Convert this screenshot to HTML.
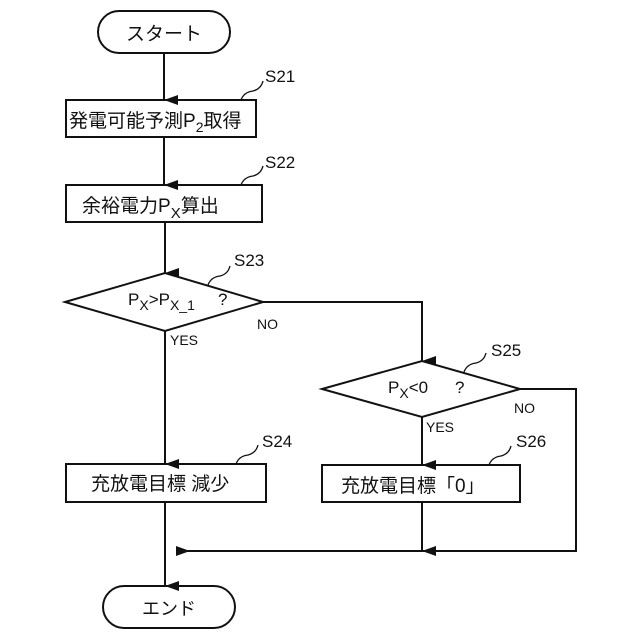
<!DOCTYPE html>
<html><head><meta charset="utf-8"><style>
html,body{margin:0;padding:0;background:#fff;}
svg{display:block;}
text{font-family:"Liberation Sans","Noto Sans CJK JP",sans-serif;fill:#111;}
</style></head><body>
<svg width="640" height="640" viewBox="0 0 640 640" xmlns="http://www.w3.org/2000/svg">
<defs><marker id="a" markerWidth="10" markerHeight="14" refX="5" refY="14" orient="auto-start-reverse" markerUnits="userSpaceOnUse" viewBox="0 0 10 14"><path d="M0,0 L10,0 L5,14 z" fill="#111"/></marker>
<marker id="l" markerWidth="14" markerHeight="10" refX="0" refY="5" markerUnits="userSpaceOnUse" viewBox="0 0 14 10"><path d="M0,5 L14,0 L14,10 z" fill="#111"/></marker></defs>
<g stroke="#111" stroke-width="2" fill="none">
<rect x="98" y="11" width="132" height="42" rx="21"/>
<line x1="164" y1="53" x2="164" y2="100" marker-end="url(#a)"/>
<rect x="66" y="100" width="190" height="37"/>
<line x1="164" y1="137" x2="164" y2="185" marker-end="url(#a)"/>
<rect x="66" y="185" width="196" height="37"/>
<line x1="165" y1="222" x2="165" y2="273" marker-end="url(#a)"/>
<polygon points="65,302 165,273 263,302 165,331"/>
<polyline points="263,302 422,302 422,361" marker-end="url(#a)"/>
<polygon points="322,389 422,361 520,389 422,417"/>
<line x1="165" y1="331" x2="165" y2="464" marker-end="url(#a)"/>
<rect x="66" y="464" width="200" height="38"/>
<line x1="422" y1="417" x2="422" y2="465" marker-end="url(#a)"/>
<rect x="322" y="465" width="198" height="37"/>
<line x1="422" y1="502" x2="422" y2="551" marker-end="url(#a)"/>
<polyline points="520,389 576,389 576,551 176,551"/>
<path d="M190,551 L176,546 L176,556 z" fill="#111" stroke="none"/>
<line x1="165" y1="502" x2="165" y2="586" marker-end="url(#a)"/>
<rect x="103" y="586" width="132" height="42" rx="21"/>
<path d="M241,100 q3,-8 12,-9 q8,-2 10,-10" stroke-width="1.3"/>
<path d="M241,185 q3,-8 12,-9 q8,-2 10,-10" stroke-width="1.3"/>
<path d="M208,285 q3,-8 12,-9 q8,-2 10,-10" stroke-width="1.3"/>
<path d="M236,464 q3,-8 12,-9 q8,-2 10,-10" stroke-width="1.3"/>
<path d="M464,372 q3,-8 12,-9 q8,-2 10,-10" stroke-width="1.3"/>
<path d="M489,465 q3,-8 12,-9 q8,-2 10,-10" stroke-width="1.3"/>
</g>
<text x="164" y="40" font-size="19" text-anchor="middle">スタート</text>
<text x="69" y="127" font-size="19">発電可能予測P<tspan font-size="14" dy="5">2</tspan><tspan dy="-5">取得</tspan></text>
<text x="82" y="212" font-size="19">余裕電力P<tspan font-size="15" dy="6">X</tspan><tspan dy="-6">算出</tspan></text>
<text x="128" y="305" font-size="17">P<tspan font-size="14" dy="5">X</tspan><tspan dy="-5">&gt;P</tspan><tspan font-size="14" dy="5">X_1</tspan><tspan dy="-5" x="218">?</tspan></text>
<text x="257" y="329" font-size="14">NO</text>
<text x="170" y="345" font-size="14">YES</text>
<text x="388" y="393" font-size="17">P<tspan font-size="14" dy="5">X</tspan><tspan dy="-5">&lt;0</tspan><tspan x="455">?</tspan></text>
<text x="514" y="413" font-size="14">NO</text>
<text x="426" y="432" font-size="14">YES</text>
<text x="91" y="490" font-size="19">充放電目標  減少</text>
<text x="341" y="492" font-size="19">充放電目標「0」</text>
<text x="169" y="615" font-size="18" text-anchor="middle">エンド</text>
<text x="265" y="82" font-size="17">S21</text>
<text x="265" y="168" font-size="17">S22</text>
<text x="234" y="266" font-size="17">S23</text>
<text x="262" y="447" font-size="17">S24</text>
<text x="491" y="356" font-size="17">S25</text>
<text x="516" y="447" font-size="17">S26</text>
</svg>
</body></html>
